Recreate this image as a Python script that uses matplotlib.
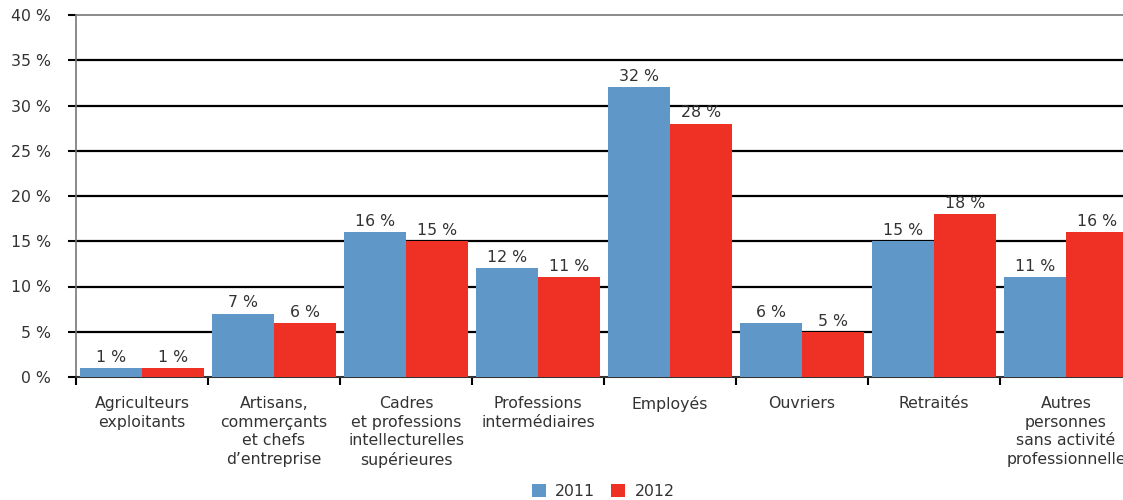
import numpy as np
import matplotlib.pyplot as plt

categories = ['Agriculteurs\nexploitants',
              'Artisans,\ncommerçants\net chefs\nd\u2019entreprise',
              'Cadres\net professions\nintellecturelles\nsupérieures',
              'Professions\nintermédiaires',
              'Employés',
              'Ouvriers',
              'Retraités',
              'Autres\npersonnes\nsans activité\nprofessionnelle']
values_2011 = [1, 7, 16, 12, 32, 6, 15, 11]
values_2012 = [1, 6, 15, 11, 28, 5, 18, 16]
years = ['2011', '2012']

blue = '#6097c9'
red = '#ee3124'
txt = '#333333'
fs = 11.3

plt.rcParams['font.family'] = ['DejaVu Sans']

fig = plt.figure(figsize=(11.23, 5.0), dpi=100)
ax = fig.add_axes([76 / 1123, 1 - 377 / 500, 1047 / 1123, 362 / 500])

x = np.arange(len(categories))
w = 0.47
b1 = ax.bar(x - w / 2, values_2011, w, color=blue, label=years[0], zorder=3)
b2 = ax.bar(x + w / 2, values_2012, w, color=red, label=years[1], zorder=3)

for bars, vals in [(b1, values_2011), (b2, values_2012)]:
    for rect, v in zip(bars, vals):
        ax.text(rect.get_x() + rect.get_width() / 2, v + 0.35, '%d %%' % v,
                ha='center', va='bottom', fontsize=fs, color=txt)

ax.set_ylim(0, 40)
ax.set_xlim(-0.5, -0.5 + 1047 / 132)
ax.set_yticks(range(0, 41, 5))
ax.set_yticklabels(['%d %%' % t for t in range(0, 41, 5)], fontsize=fs, color=txt)
for t in range(5, 40, 5):
    ax.axhline(t, color='black', lw=1.6, zorder=1)

# category separators as ticks
ax.set_xticks(np.arange(0, len(categories)) - 0.5, minor=False)
ax.set_xticklabels([])
ax.tick_params(axis='x', length=6, width=1.5, color='black', direction='out')
ax.set_xticks(x, minor=True)
ax.set_xticklabels(categories, minor=True, fontsize=fs, color=txt, linespacing=1.28)
ax.tick_params(axis='x', which='minor', length=0, pad=14)
ax.tick_params(axis='y', length=6, width=1.5, color='black', pad=12)

ax.spines['right'].set_visible(False)
ax.spines['top'].set_color('#777777')
ax.spines['top'].set_linewidth(1.2)
ax.spines['left'].set_color('#777777')
ax.spines['left'].set_linewidth(1.2)
ax.spines['bottom'].set_color('#333333')
ax.spines['bottom'].set_linewidth(1.5)

leg = fig.legend(handles=[b1, b2], labels=years, loc='lower center',
                 bbox_to_anchor=(0.537, -0.026), ncol=2, frameon=False,
                 fontsize=fs, handlelength=0.9, handleheight=0.9,
                 columnspacing=1.0, handletextpad=0.6)
for t in leg.get_texts():
    t.set_color(txt)

fig.savefig('out.png', dpi=100)
